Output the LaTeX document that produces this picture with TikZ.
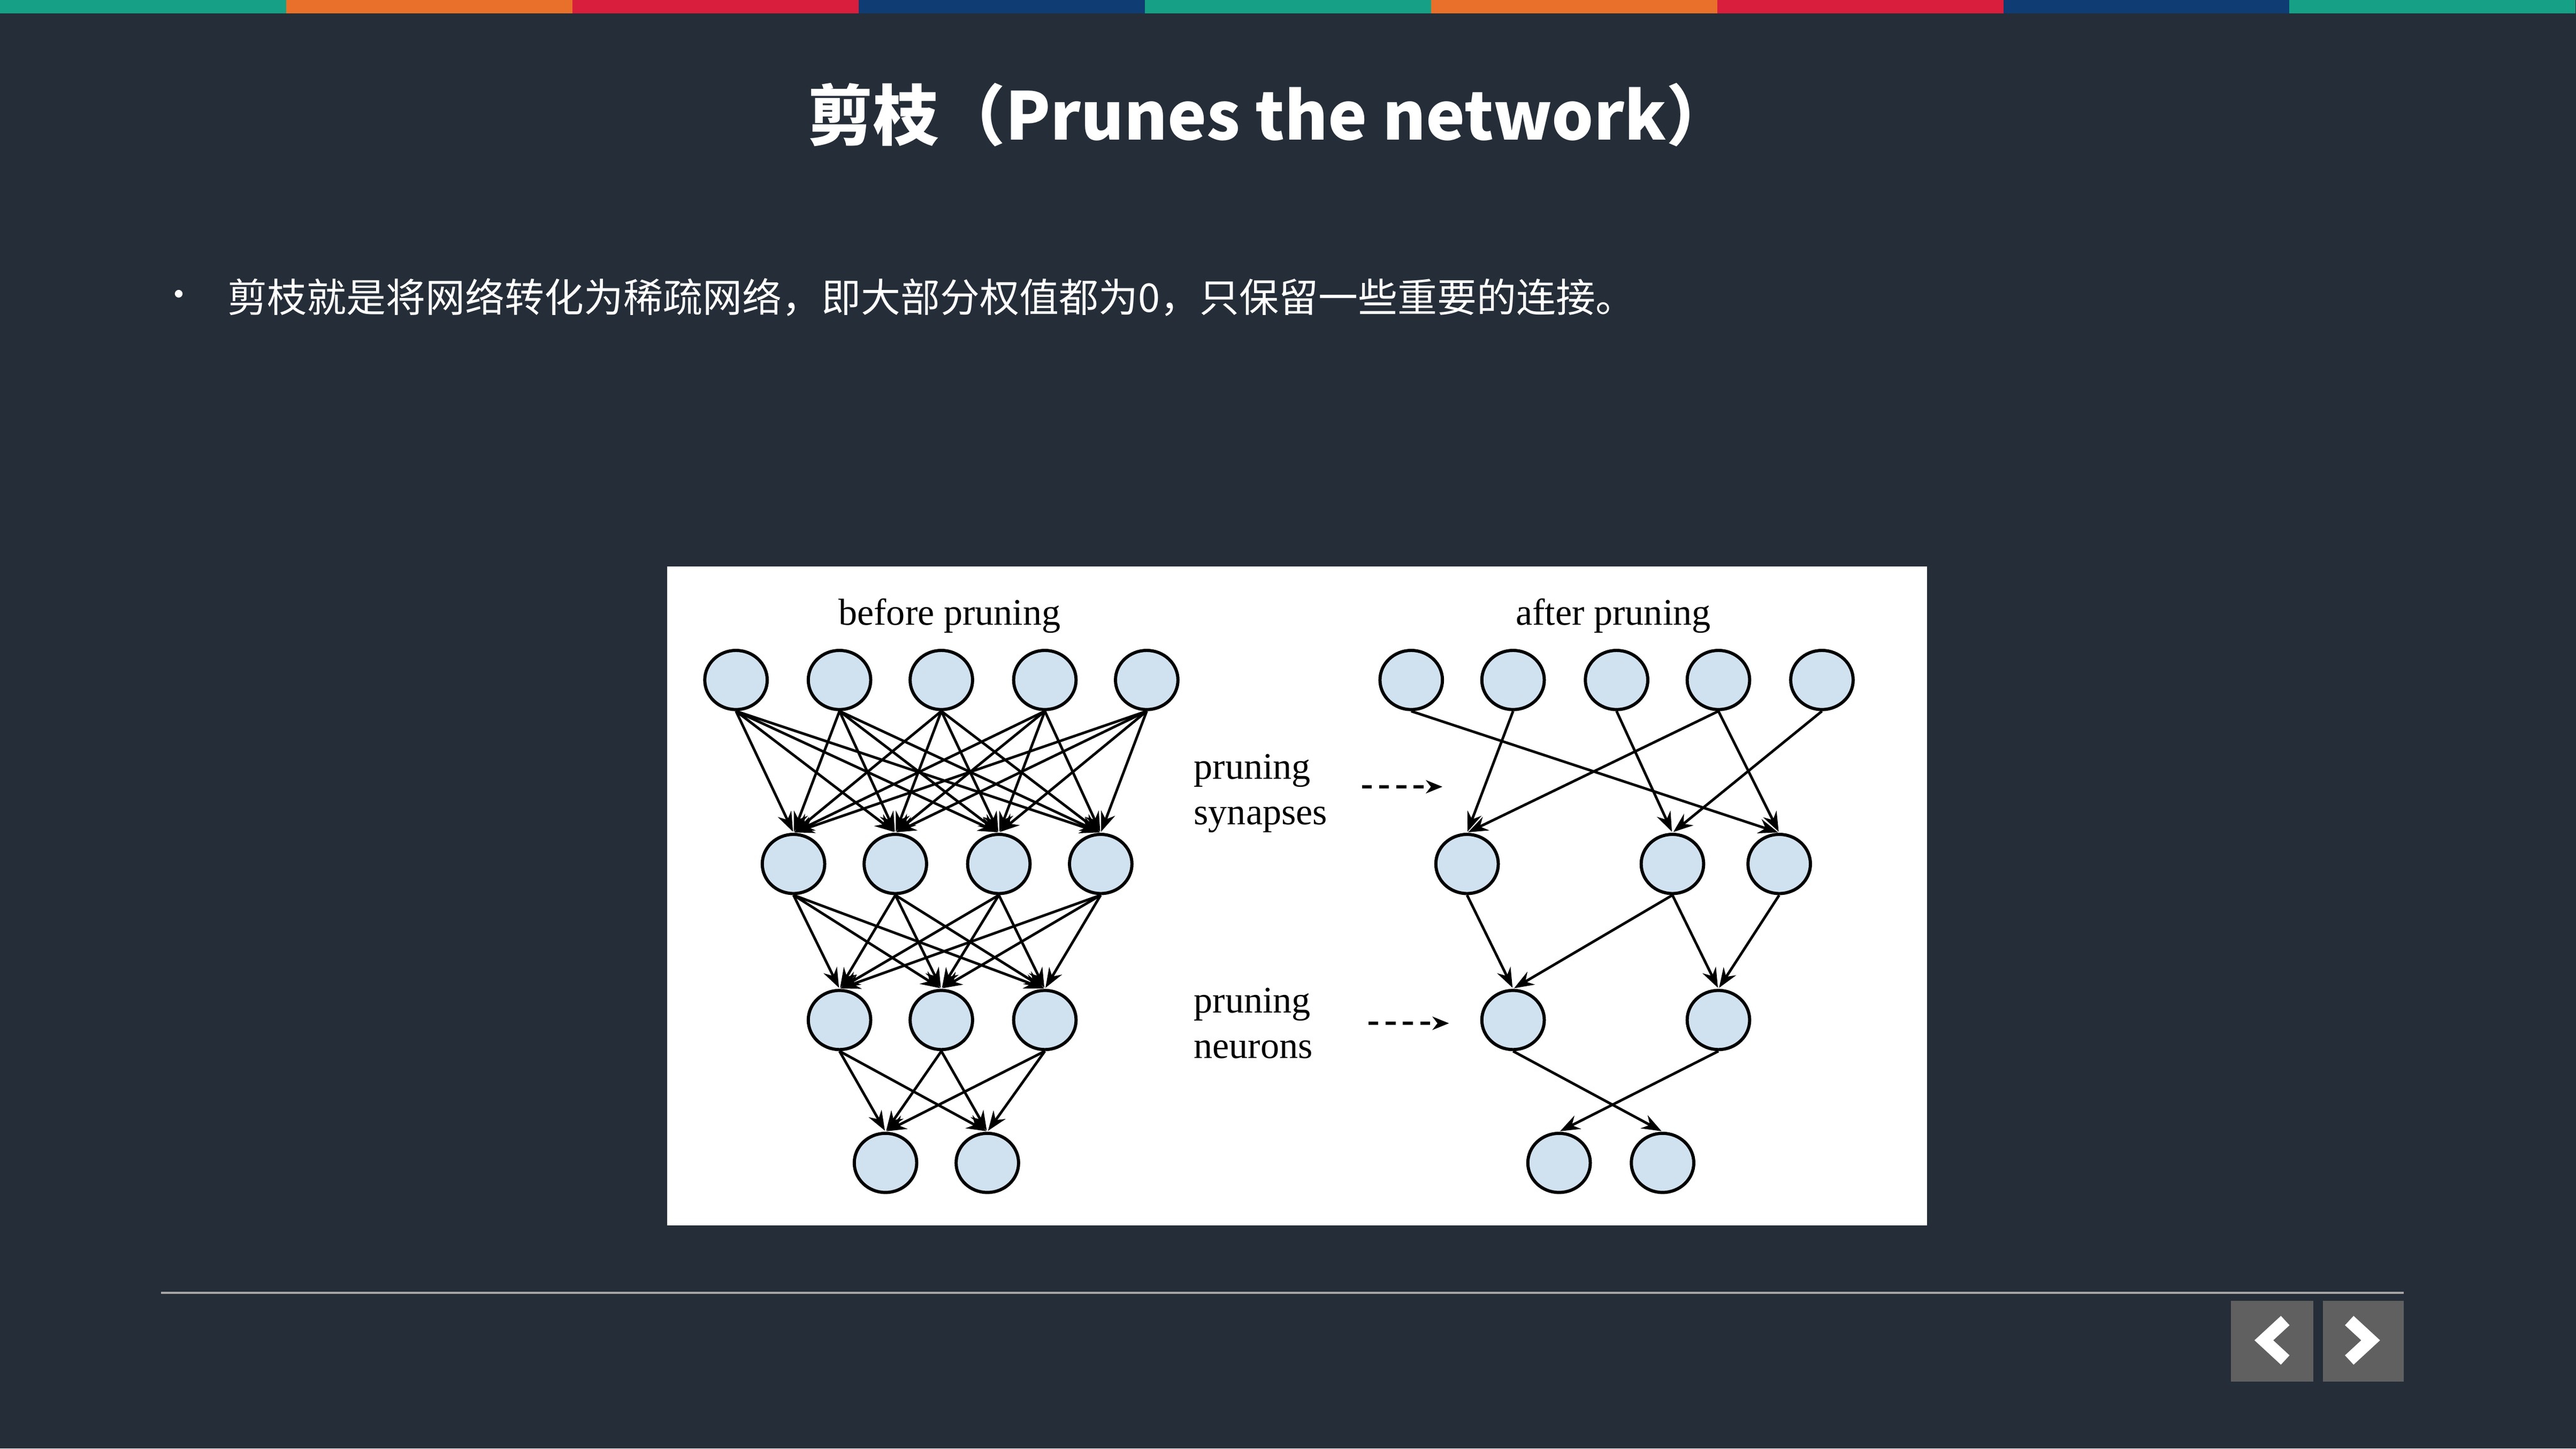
\documentclass[tikz,border=0pt]{standalone}
\usepackage{fontspec}
\setmainfont{Liberation Serif}
\newfontfamily\cjk{Noto Sans CJK SC}
\usetikzlibrary{arrows.meta,shapes.geometric}
\definecolor{bg}{HTML}{252E38}
\definecolor{nfill}{HTML}{D0E1F0}
\definecolor{cteal}{HTML}{16A085}
\definecolor{corange}{HTML}{E8702A}
\definecolor{cred}{HTML}{D81E3C}
\definecolor{cnavy}{HTML}{0F3C72}
\begin{document}
\begin{tikzpicture}[x=0.01cm,y=-0.01cm,
  neuron/.style={ellipse,draw=black,line width=0.55pt,fill=nfill,minimum width=0.38cm,minimum height=0.36cm,inner sep=0pt},
  syn/.style={-{Stealth[length=0.12cm,width=0.09cm,inset=0.04cm]},line width=0.45pt,shorten >=0.2pt},
  lbl/.style={font=\fontsize{6.5}{7.9}\selectfont,text=black,inner sep=0pt},
  dasharrow/.style={dashed,dash pattern=on 0.06cm off 0.045cm,line width=0.5pt,-{Stealth[length=0.1cm,width=0.08cm,inset=0.03cm]}}]
\useasboundingbox (0,0) rectangle (1568,882);
\fill[bg] (0,0) rectangle (1568,882);
\foreach \i/\c in {0/cteal,1/corange,2/cred,3/cnavy,4/cteal,5/corange,6/cred,7/cnavy,8/cteal}
  \fill[\c] (\i*174.2,0) rectangle (\i*174.2+174.2,8);
\node[text=white,font=\cjk\bfseries\fontsize{11.4}{13}\selectfont] (title) at (773,70) {剪枝（Prunes the network）};
\node[text=white,font=\cjk\fontsize{6.3}{7}\selectfont] (bul) at (109,182) {•};
\node[text=white,font=\cjk\fontsize{6.85}{7.5}\selectfont,anchor=west,inner sep=0pt] (txt) at (138,181) {剪枝就是将网络转化为稀疏网络，即大部分权值都为0，只保留一些重要的连接。};
\fill[white] (406,345) rectangle (1173,746);
\node[lbl] (bp) at (578,375) {before pruning};
\node[lbl] (ap) at (982,375) {after pruning};
\node[lbl,anchor=west,align=left] (ps) at (726,483) {pruning\\synapses};
\node[lbl,anchor=west,align=left] (pn) at (726,623) {pruning\\neurons};
\coordinate (d1a) at (829,479); \coordinate (d1b) at (878,479);
\coordinate (d2a) at (833,623); \coordinate (d2b) at (882,623);
\draw[dasharrow] (d1a) -- (d1b);
\draw[dasharrow] (d2a) -- (d2b);
% before
\foreach \x [count=\i] in {448,511,573,636,698} \node[neuron] (a\i) at (\x,414) {};
\foreach \x [count=\i] in {483,545,608,670} \node[neuron] (b\i) at (\x,526) {};
\foreach \x [count=\i] in {511,573,636} \node[neuron] (c\i) at (\x,621) {};
\foreach \x [count=\i] in {539,601} \node[neuron] (d\i) at (\x,708) {};
\foreach \i in {1,...,5} \foreach \j in {1,...,4} \draw[syn] (a\i.south) -- (b\j.north);
\foreach \i in {1,...,4} \foreach \j in {1,...,3} \draw[syn] (b\i.south) -- (c\j.north);
\foreach \i in {1,...,3} \foreach \j in {1,2} \draw[syn] (c\i.south) -- (d\j.north);
% after
\foreach \x [count=\i] in {859,921,984,1046,1109} \node[neuron] (p\i) at (\x,414) {};
\foreach \x [count=\i] in {893,1018,1083} \node[neuron] (q\i) at (\x,526) {};
\foreach \x [count=\i] in {921,1046} \node[neuron] (r\i) at (\x,621) {};
\foreach \x [count=\i] in {949,1012} \node[neuron] (s\i) at (\x,708) {};
\foreach \u/\v in {p1/q3,p2/q1,p3/q2,p4/q1,p4/q3,p5/q2,q1/r1,q2/r1,q2/r2,q3/r2,r1/s2,r2/s1}
  \draw[syn] (\u.south) -- (\v.north);
% footer
\draw[gray!70,line width=0.4pt] (98,787) -- (1463,787);
\fill[gray!75!black] (1358,792) rectangle (1408,841);
\fill[gray!75!black] (1414,792) rectangle (1463,841);
\node[minimum size=0,inner sep=0] (bl) at (1383,816) {};
\node[minimum size=0,inner sep=0] (br) at (1438,816) {};
\draw[white,line width=2.2pt] ([xshift=0.08cm,yshift=0.12cm]bl.center) -- ([xshift=-0.05cm]bl.center) -- ([xshift=0.08cm,yshift=-0.12cm]bl.center);
\draw[white,line width=2.2pt] ([xshift=-0.08cm,yshift=0.12cm]br.center) -- ([xshift=0.05cm]br.center) -- ([xshift=-0.08cm,yshift=-0.12cm]br.center);
\end{tikzpicture}
\end{document}
